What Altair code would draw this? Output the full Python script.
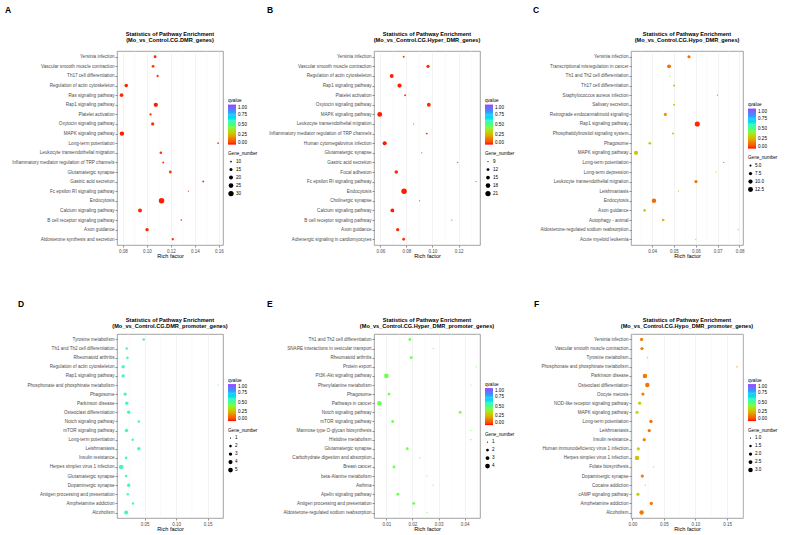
import altair as alt
import pandas as pd

FONT = "Liberation Sans"

# ---------------- Panel A ----------------
names_A = ["Yersinia infection", "Vascular smooth muscle contraction", "Th17 cell differentiation",
           "Regulation of actin cytoskeleton", "Ras signaling pathway", "Rap1 signaling pathway",
           "Platelet activation", "Oxytocin signaling pathway", "MAPK signaling pathway",
           "Long-term potentiation", "Leukocyte transendothelial migration",
           "Inflammatory mediator regulation of TRP channels", "Glutamatergic synapse",
           "Gastric acid secretion", "Fc epsilon RI signaling pathway", "Endocytosis",
           "Calcium signaling pathway", "B cell receptor signaling pathway", "Axon guidance",
           "Aldosterone synthesis and secretion"]
rich_A = [0.1068, 0.1051, 0.1089, 0.0827, 0.0788, 0.1074, 0.1030, 0.1048, 0.0791, 0.1594,
          0.1116, 0.1136, 0.1195, 0.1470, 0.1346, 0.1122, 0.0942, 0.1287, 0.1001, 0.1216]
genes_A = [14, 14, 12, 18, 18, 22, 12, 16, 23, 10, 13, 11, 14, 11, 9, 31, 20, 10, 17, 12]
q_A = [0.02, 0.03, 0.03, 0.02, 0.02, 0.01, 0.03, 0.02, 0.01, 0.04,
       0.03, 0.03, 0.03, 0.04, 0.05, 0.01, 0.02, 0.05, 0.02, 0.03]

# ---------------- Panel B ----------------
names_B = ["Yersinia infection", "Vascular smooth muscle contraction", "Regulation of actin cytoskeleton",
           "Rap1 signaling pathway", "Platelet activation", "Oxytocin signaling pathway",
           "MAPK signaling pathway", "Leukocyte transendothelial migration",
           "Inflammatory mediator regulation of TRP channels", "Human cytomegalovirus infection",
           "Glutamatergic synapse", "Gastric acid secretion", "Focal adhesion",
           "Fc epsilon RI signaling pathway", "Endocytosis", "Cholinergic synapse",
           "Calcium signaling pathway", "B cell receptor signaling pathway", "Axon guidance",
           "Adrenergic signaling in cardiomyocytes"]
rich_B = [0.0779, 0.0966, 0.0687, 0.0747, 0.0790, 0.0972, 0.0595, 0.0855, 0.0956, 0.0633,
          0.0918, 0.1194, 0.0722, 0.1335, 0.0782, 0.0901, 0.0692, 0.1149, 0.0733, 0.0779]
genes_B = [10, 13, 15, 16, 10, 15, 19, 9, 10, 16, 9, 9, 14, 9, 22, 9, 15, 9, 13, 12]
q_B = [0.03, 0.02, 0.01, 0.01, 0.03, 0.02, 0.01, 0.04, 0.03, 0.01,
       0.04, 0.05, 0.02, 0.05, 0.01, 0.04, 0.01, 0.05, 0.02, 0.03]

# ---------------- Panel C ----------------
names_C = ["Yersinia infection", "Transcriptional misregulation in cancer", "Th1 and Th2 cell differentiation",
           "Th17 cell differentiation", "Staphylococcus aureus infection", "Salivary secretion",
           "Retrograde endocannabinoid signaling", "Rap1 signaling pathway",
           "Phosphatidylinositol signaling system", "Phagosome", "MAPK signaling pathway",
           "Long-term potentiation", "Long-term depression", "Leukocyte transendothelial migration",
           "Leishmaniasis", "Endocytosis", "Axon guidance", "Autophagy - animal",
           "Aldosterone-regulated sodium reabsorption", "Acute myeloid leukemia"]
rich_C = [0.0569, 0.0478, 0.0482, 0.0501, 0.0699, 0.0501, 0.0461, 0.0607, 0.0496, 0.0390,
          0.0327, 0.0728, 0.0693, 0.0601, 0.0521, 0.0409, 0.0366, 0.0451, 0.0794, 0.0600]
genes_C = [7, 9, 4, 5, 4, 5, 7, 13, 5, 6, 10, 4, 4, 7, 4, 11, 6, 6, 4, 4]
q_C = [0.12, 0.13, 0.30, 0.25, 0.14, 0.29, 0.19, 0.02, 0.29, 0.28,
       0.28, 0.14, 0.30, 0.13, 0.34, 0.12, 0.28, 0.27, 0.33, 0.30]

# ---------------- Panel D ----------------
names_D = ["Tyrosine metabolism", "Th1 and Th2 cell differentiation", "Rheumatoid arthritis",
           "Regulation of actin cytoskeleton", "Rap1 signaling pathway",
           "Phosphonate and phosphinate metabolism", "Phagosome", "Parkinson disease",
           "Osteoclast differentiation", "Notch signaling pathway", "mTOR signaling pathway",
           "Long-term potentiation", "Leishmaniasis", "Insulin resistance",
           "Herpes simplex virus 1 infection", "Glutamatergic synapse", "Dopaminergic synapse",
           "Antigen processing and presentation", "Amphetamine addiction", "Alcoholism"]
rich_D = [0.0484, 0.0215, 0.0225, 0.0158, 0.0158, 0.1666, 0.0189, 0.0215, 0.0246, 0.0407,
          0.0210, 0.0309, 0.0407, 0.0205, 0.0127, 0.0205, 0.0246, 0.0231, 0.0314, 0.0205]
genes_D = [2, 2, 2, 3, 3, 1, 3, 3, 3, 2, 3, 2, 3, 2, 5, 2, 3, 2, 2, 4]
q_D = [0.60, 0.60, 0.60, 0.60, 0.60, 0.62, 0.60, 0.60, 0.60, 0.60,
       0.60, 0.60, 0.60, 0.60, 0.60, 0.60, 0.60, 0.60, 0.60, 0.60]

# ---------------- Panel E ----------------
names_E = ["Th1 and Th2 cell differentiation", "SNARE interactions in vesicular transport",
           "Rheumatoid arthritis", "Protein export", "PI3K-Akt signaling pathway",
           "Phenylalanine metabolism", "Phagosome", "Pathways in cancer", "Notch signaling pathway",
           "mTOR signaling pathway", "Mannose type O-glycan biosynthesis", "Histidine metabolism",
           "Glutamatergic synapse", "Carbohydrate digestion and absorption", "Breast cancer",
           "beta-Alanine metabolism", "Asthma", "Apelin signaling pathway",
           "Antigen processing and presentation", "Aldosterone-regulated sodium reabsorption"]
rich_E = [0.0190, 0.0280, 0.0195, 0.0444, 0.0100, 0.0424, 0.0110, 0.0073, 0.0383, 0.0124,
          0.0424, 0.0424, 0.0180, 0.0228, 0.0129, 0.0256, 0.0280, 0.0144, 0.0205, 0.0256]
genes_E = [2, 1, 2, 1, 4, 1, 2, 4, 2, 2, 1, 1, 2, 1, 2, 1, 1, 2, 2, 1]
q_E = [0.45, 0.45, 0.45, 0.46, 0.45, 0.46, 0.45, 0.45, 0.45, 0.45,
       0.46, 0.46, 0.45, 0.45, 0.45, 0.45, 0.45, 0.45, 0.45, 0.45]

# ---------------- Panel F ----------------
names_F = ["Yersinia infection", "Vascular smooth muscle contraction", "Tyrosine metabolism",
           "Phosphonate and phosphinate metabolism", "Parkinson disease", "Osteoclast differentiation",
           "Oocyte meiosis", "NOD-like receptor signaling pathway", "MAPK signaling pathway",
           "Long-term potentiation", "Leishmaniasis", "Insulin resistance",
           "Human immunodeficiency virus 1 infection", "Herpes simplex virus 1 infection",
           "Folate biosynthesis", "Dopaminergic synapse", "Cocaine addiction",
           "cAMP signaling pathway", "Amphetamine addiction", "Alcoholism"]
rich_F = [0.0147, 0.0153, 0.0237, 0.1658, 0.0200, 0.0237, 0.0168, 0.0116, 0.0074, 0.0295,
          0.0268, 0.0189, 0.0095, 0.0074, 0.0337, 0.0158, 0.0205, 0.0089, 0.0300, 0.0147]
genes_F = [2, 2, 1, 1, 3, 3, 2, 2, 2, 2, 2, 2, 2, 3, 1, 2, 1, 2, 2, 3]
q_F = [0.16, 0.16, 0.28, 0.15, 0.15, 0.14, 0.17, 0.30, 0.36, 0.12,
       0.14, 0.17, 0.32, 0.27, 0.28, 0.16, 0.29, 0.31, 0.14, 0.15]

# minor vertical grid positions (between the labelled ticks)
minor_A = [0.09, 0.11, 0.13, 0.15]
minor_B = [0.07, 0.09, 0.11, 0.13]
minor_C = [0.035, 0.045, 0.055, 0.065, 0.075]
minor_D = [0.025, 0.075, 0.125]
minor_E = [0.015, 0.025, 0.035, 0.045]
minor_F = [0.025, 0.075, 0.125, 0.175]

TITLE_LINE1 = "Statistics of Pathway Enrichment"

# qvalue colour ramp
Q_STOPS = [0.0, 0.15, 0.28, 0.45, 0.6, 0.75, 0.88, 1.0]
Q_COLORS = ["#FF0000", "#F27A00", "#CCC800", "#70FF50", "#48F5C0", "#3FC4FF", "#5F78FF", "#9A40FF"]


def text_layer(txt, x, y, size, weight, align, baseline):
    return alt.Chart(pd.DataFrame({"t": [txt]})).mark_text(
        font=FONT, fontSize=size, fontWeight=weight, align=align, baseline=baseline, color="black"
    ).encode(text="t:N", x=alt.value(x), y=alt.value(y))


def panel(letter, subtitle, names, rich, genes, qval, minor, xdom, xticks, xfmt,
          size_vals, size_fmt, w, h, letter_pos, title_y, size_range, grad_len):
    df = pd.DataFrame({"Pathway": names, "RichFactor": rich,
                       "Gene_number": genes, "qvalue": qval})
    n = len(size_vals)
    block = 7 + grad_len + 6 + 7 + n * 8
    top = h / 2 - block / 2
    xscale = alt.Scale(domain=xdom, nice=False, zero=False)
    xaxis = alt.Axis(values=xticks, format=xfmt, labelFontSize=4.5)
    minor_rules = alt.Chart(pd.DataFrame({"RichFactor": minor})).mark_rule(
        color="#F2F2F2", strokeWidth=0.4
    ).encode(x=alt.X("RichFactor:Q", title="Rich factor", scale=xscale, axis=xaxis))
    pts = alt.Chart(df).mark_circle(opacity=1).encode(
        x=alt.X("RichFactor:Q", title="Rich factor", scale=xscale, axis=xaxis),
        y=alt.Y("Pathway:N", sort=names, title=None,
                scale=alt.Scale(type="point", padding=0.6),
                axis=alt.Axis(labelFontSize=4.6, labelLimit=300)),
        size=alt.Size("Gene_number:Q",
                      scale=alt.Scale(domain=[min(genes), max(genes)], range=size_range),
                      legend=alt.Legend(values=size_vals, format=size_fmt, orient="none",
                                        legendX=w + 5, legendY=top + 7 + grad_len + 6,
                                        direction="vertical", clipHeight=8, rowPadding=0,
                                        symbolFillColor="black", symbolStrokeWidth=0,
                                        symbolType="circle")),
        color=alt.Color("qvalue:Q", scale=alt.Scale(domain=Q_STOPS, range=Q_COLORS),
                        legend=alt.Legend(values=[0, 0.25, 0.5, 0.75, 1], format=".2f",
                                          orient="none", legendX=w + 5, legendY=top,
                                          direction="vertical", gradientLength=grad_len,
                                          gradientThickness=8)),
    )
    lab = text_layer(letter, letter_pos[0], letter_pos[1], 8.5, "bold", "left", "top")
    t1 = text_layer(TITLE_LINE1, w / 2, title_y, 5.6, "bold", "center", "middle")
    t2 = text_layer(subtitle, w / 2, title_y + 6, 5.6, "bold", "center", "middle")
    return alt.layer(minor_rules, pts, lab, t1, t2).properties(width=w, height=h)


H1, H2 = 194, 184
pA = panel("A", "(Mo_vs_Control.CG.DMR_genes)", names_A, rich_A, genes_A, q_A, minor_A,
           [0.0750, 0.1635], [0.08, 0.10, 0.12, 0.14, 0.16], ".2f",
           [10, 15, 20, 25, 30], "d", 106, H1, (-112, -45), -17, [1.5, 30], 40)
pB = panel("B", "(Mo_vs_Control.CG.Hyper_DMR_genes)", names_B, rich_B, genes_B, q_B, minor_B,
           [0.0551, 0.1365], [0.06, 0.08, 0.10, 0.12], ".2f",
           [9, 12, 15, 18, 21], "d", 106, H1, (-107, -45), -17, [1.5, 30], 40)
pC = panel("C", "(Mo_vs_Control.CG.Hypo_DMR_genes)", names_C, rich_C, genes_C, q_C, minor_C,
           [0.0304, 0.0816], [0.04, 0.05, 0.06, 0.07, 0.08], ".2f",
           [5, 7.5, 10, 12.5], ".1f", 112, H1, (-98, -45), -17, [1.5, 26], 40)
pD = panel("D", "(Mo_vs_Control.CG.DMR_promoter_genes)", names_D, rich_D, genes_D, q_D, minor_D,
           [0.0060, 0.1744], [0.05, 0.10, 0.15], ".2f",
           [1, 2, 3, 4, 5], "d", 106, H2, (-99, -34), -14.5, [1.5, 22], 37)
pE = panel("E", "(Mo_vs_Control.CG.Hyper_DMR_promoter_genes)", names_E, rich_E, genes_E, q_E, minor_E,
           [0.00525, 0.0459], [0.01, 0.02, 0.03, 0.04], ".2f",
           [1, 2, 3, 4], "d", 106, H2, (-107, -34), -14.5, [1.5, 22], 37)
pF = panel("F", "(Mo_vs_Control.CG.Hypo_DMR_promoter_genes)", names_F, rich_F, genes_F, q_F, minor_F,
           [-0.0021, 0.1753], [0.00, 0.05, 0.10, 0.15], ".2f",
           [1, 1.5, 2, 2.5, 3], ".1f", 112, H2, (-97, -34), -14.5, [1.5, 20], 37)

chart = alt.concat(pA, pB, pC, pD, pE, pF, columns=3,
                   spacing={"row": 89, "column": 151}, bounds="flush", align="each")
chart = chart.resolve_scale(x="independent", y="independent", color="independent", size="independent")
chart = chart.properties(padding={"left": 4, "top": 5, "right": 2, "bottom": 2}, background="white")
chart = chart.configure_view(stroke="#8C8C8C", strokeWidth=0.8)
chart = chart.configure_axis(labelFont=FONT, titleFont=FONT, labelColor="#4D4D4D",
                             tickColor="#4D4D4D", tickSize=2, tickWidth=0.6, domain=False,
                             gridColor="#EBEBEB", gridWidth=0.6, titleFontSize=5.6,
                             titleFontWeight="normal", titleColor="black",
                             labelPadding=1, titlePadding=1)
chart = chart.configure_legend(titleFont=FONT, labelFont=FONT, titleFontSize=4.6,
                               titleFontWeight="normal", titleColor="black", labelFontSize=4.6,
                               labelColor="black", titlePadding=2, labelOffset=2,
                               gradientStrokeWidth=0)

chart.save("out.html", embed_options={"renderer": "svg", "actions": False})
